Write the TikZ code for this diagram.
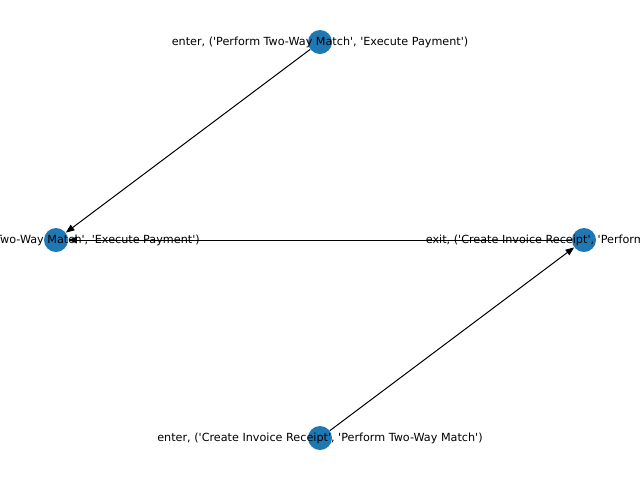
\documentclass[tikz,border=0pt]{standalone}
\usepackage{fontspec}
\newfontfamily\dvsans{DejaVu Sans}
\usetikzlibrary{arrows.meta}
\definecolor{nodeblue}{HTML}{1F77B4}
\begin{document}
\begin{tikzpicture}[x=0.75pt,y=-0.75pt,
  nd/.style={circle,fill=nodeblue,minimum size=18pt,inner sep=0pt},
  lbl/.style={font=\dvsans\fontsize{8.4}{10}\selectfont,inner sep=0pt,text=black},
  edge/.style={draw=black,line width=0.75pt,-{Triangle[length=6.5pt,width=5pt]}}]
\useasboundingbox (0,0) rectangle (640,480);
\clip (0,0) rectangle (640,480);
\node[nd] (top) at (320,42) {};
\node[nd] (left) at (56,240) {};
\node[nd] (right) at (584,240) {};
\node[nd] (bot) at (320,438) {};
\draw[edge] (top) -- (left);
\draw[edge] (right) -- (left);
\draw[edge] (bot) -- (right);
\node[lbl] (ltop) at (320,42) {enter, ('Perform Two-Way Match', 'Execute Payment')};
\node[lbl] (lleft) at (56,240) {exit, ('Perform Two-Way Match', 'Execute Payment')};
\node[lbl] (lright) at (584,240) {exit, ('Create Invoice Receipt', 'Perform Two-Way Match')};
\node[lbl] (lbot) at (320,438) {enter, ('Create Invoice Receipt', 'Perform Two-Way Match')};
\end{tikzpicture}
\end{document}
